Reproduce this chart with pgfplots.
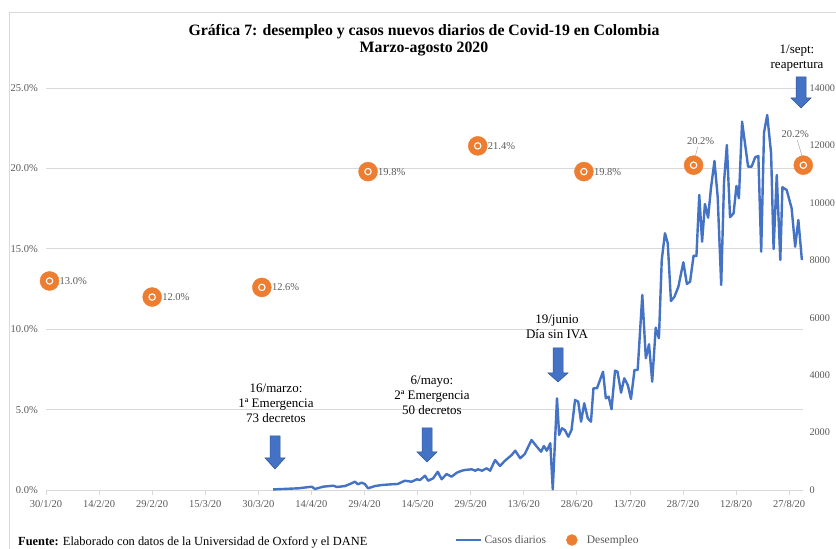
\documentclass[border=0pt]{standalone}
\usepackage{pgfplots}
\pgfplotsset{compat=1.18}
\usepackage{fontspec}
\setmainfont{Liberation Serif}
\definecolor{cblue}{HTML}{4472C4}
\definecolor{corange}{HTML}{ED7D31}
\definecolor{tgray}{HTML}{595959}
\definecolor{ggray}{HTML}{D9D9D9}
\definecolor{adark}{HTML}{2F5597}
\newcommand{\barrow}[4]{%
  \filldraw[fill=cblue, draw=adark, line width=0.5pt, line join=miter]
    (#1-5,#2) -- (#1+5,#2) -- (#1+5,#3) -- (#1+10,#3) -- (#1,#4) -- (#1-10,#3) -- (#1-5,#3) -- cycle;}

\pgfplotstableread{
day cases
64.2 20
71.3 59
75.1 115
76.0 35
78.3 115
81.1 150
82.3 105
84.5 139
85.9 209
87.3 289
88.1 199
89.2 254
90.1 209
91.0 59
93.0 139
94.9 174
97.7 199
99.4 209
101.4 324
103.3 289
104.8 373
105.7 348
107.1 498
108.0 324
109.4 408
110.7 637
111.8 373
113.2 557
114.6 463
116.1 603
117.5 672
118.4 697
120.3 721
121.3 672
122.1 721
123.2 672
124.5 756
125.5 672
126.9 1045
128.3 836
129.7 1021
131.6 1219
132.6 1369
134.0 1104
135.3 1254
137.2 1742
138.7 1508
139.9 1334
140.7 1533
141.5 1369
142.5 1627
143.2 24
144.4 3194
145.0 1916
145.8 2149
146.6 2090
147.6 1856
148.5 2090
149.5 3135
150.4 3075
151.2 2379
152.1 3020
153.1 2497
154.0 2379
154.7 3542
155.7 3542
157.4 4120
158.2 3194
159.0 3250
159.8 2811
160.8 4155
161.5 4120
162.5 3389
163.4 3891
164.4 3657
165.3 3170
166.3 4180
167.2 4180
168.5 6792
169.5 4587
170.4 5075
171.3 3772
172.3 5653
173.2 5284
174.0 8011
174.9 8941
175.7 8593
176.6 6583
177.6 6733
178.7 7081
180.1 7931
181.1 7175
182.0 7255
183.0 8161
183.8 8150
184.6 10275
185.4 8648
186.2 9961
187.1 9484
187.9 10508
188.9 11459
189.8 10216
190.8 7140
191.6 10738
192.4 12016
193.3 9498
194.3 9637
195.1 10588
195.8 10159
196.7 12828
198.4 11261
199.4 11261
200.4 11588
201.3 11633
202.1 8300
202.9 12445
203.8 13061
204.9 11727
205.6 8394
206.5 10971
207.5 8011
208.1 10543
209.3 10449
210.7 9812
211.7 8474
212.6 9404
213.6 8011
}\casos

\pgfplotstableread{
day rate
1 13.0
30 12.0
61 12.6
91 19.8
122 21.4
152 19.8
183 20.2
214 20.2
}\desempleo

\begin{document}
\begin{tikzpicture}
\path[use as bounding box] (0,0) rectangle (836pt,549pt);
\draw[ggray, line width=0.8pt] (9pt,0pt) -- (9pt,537pt) -- (836pt,537pt);

\begin{axis}[
  at={(46pt,59pt)}, anchor=south west, scale only axis,
  width=757.3pt, height=402pt,
  xmin=0, xmax=214, ymin=0, ymax=25,
  axis x line*=bottom, axis y line*=left,
  y axis line style={draw=none},
  x axis line style={draw=ggray, line width=0.8pt, -},
  xtick={0,15,...,210},
  xticklabels={30/1/20,14/2/20,29/2/20,15/3/20,30/3/20,14/4/20,29/4/20,14/5/20,29/5/20,13/6/20,28/6/20,13/7/20,28/7/20,12/8/20,27/8/20},
  tick align=outside,
  x tick style={draw=ggray, line width=0.8pt},
  major tick length=5pt,
  ytick={0,5,...,25},
  yticklabels={0.0\%,5.0\%,10.0\%,15.0\%,20.0\%,25.0\%},
  y tick style={draw=none},
  ymajorgrids, grid style={ggray, line width=0.8pt},
  tick label style={font=\fontsize{10.5}{12}\selectfont, text=tgray},
  xticklabel style={yshift=-1.5pt},
  yticklabel style={anchor=east, inner sep=0pt, xshift=-3pt},
  clip=false,
]
\addplot[only marks, mark=*, mark size=9.5pt, color=corange, mark options={draw=none, fill=corange}] table[x=day, y=rate] {\desempleo};
\addplot[only marks, mark=o, mark size=3.2pt, mark options={draw=white, line width=1.1pt}] table[x=day, y=rate] {\desempleo};
\begin{scope}[every node/.style={font=\fontsize{10.5}{12}\selectfont, text=tgray, inner sep=0pt}]
\node[anchor=west, xshift=10pt] at (axis cs:1,13.0) {13.0\%};
\node[anchor=west, xshift=10pt] at (axis cs:30,12.0) {12.0\%};
\node[anchor=west, xshift=10pt] at (axis cs:61,12.6) {12.6\%};
\node[anchor=west, xshift=10pt] at (axis cs:91,19.8) {19.8\%};
\node[anchor=west, xshift=10pt] at (axis cs:122,21.4) {21.4\%};
\node[anchor=west, xshift=10pt] at (axis cs:152,19.8) {19.8\%};
\node[xshift=7pt, yshift=24pt] at (axis cs:183,20.2) {20.2\%};
\node[xshift=-8pt, yshift=31pt] at (axis cs:214,20.2) {20.2\%};
\end{scope}
\draw[gray!70, line width=0.5pt] ([shift={(1pt,6pt)}]axis cs:183,20.2) -- ([shift={(4pt,18pt)}]axis cs:183,20.2);
\draw[gray!70, line width=0.5pt] ([shift={(0pt,5pt)}]axis cs:214,20.2) -- ([shift={(-6pt,25pt)}]axis cs:214,20.2);
\end{axis}

\begin{axis}[
  at={(46pt,59pt)}, anchor=south west, scale only axis,
  width=757.3pt, height=402pt,
  xmin=0, xmax=214, ymin=0, ymax=14000,
  axis y line*=right, axis x line=none,
  y axis line style={draw=none},
  ytick={0,2000,...,14000}, y tick style={draw=none},
  tick label style={font=\fontsize{10.2}{12}\selectfont, text=tgray},
  yticklabel style={anchor=west, inner sep=0pt, xshift=6pt},
  scaled y ticks=false,
  /pgf/number format/set thousands separator={},
  /pgf/number format/assume math mode=true,
  clip=false,
  legend style={at={(0.536,-0.1244)}, anchor=west, draw=none, fill=none,
    legend columns=2, font=\fontsize{11.5}{13}\selectfont, text=tgray,
    /tikz/every even column/.append style={column sep=18pt}},
]
\addplot[cblue, line width=2.4pt, line join=round,
  legend image code/.code={\draw[cblue, line width=2.4pt] (0pt,0pt) -- (25pt,0pt);}] table[x=day, y=cases] {\casos};
\addlegendentry{Casos diarios}
\addlegendimage{legend image code/.code={\path[draw=none, fill=none] (-5.5pt,-0.1pt) rectangle (13pt,0.1pt); \fill[corange] (0pt,0pt) circle (5.5pt);}}
\addlegendentry{Desempleo}
\end{axis}

\node[font=\bfseries\fontsize{15.8}{17}\selectfont, align=center] at (424pt,508.5pt)
  {Gráfica 7: desempleo y casos nuevos diarios de Covid-19 en Colombia\\Marzo-agosto 2020};
\node[anchor=west, font=\fontsize{12.4}{14}\selectfont, inner sep=0pt] at (18pt,7pt)
  {\textbf{Fuente:} Elaborado con datos de la Universidad de Oxford y el DANE};

\begin{scope}[x=1pt, y=-1pt, yshift=549pt]
\begin{scope}[every node/.style={align=center, font=\fontsize{13}{15}\selectfont}]
\node at (276,403) {16/marzo:\\1ª Emergencia\\73 decretos};
\node at (432,395) {6/mayo:\\2ª Emergencia\\50 decretos};
\node at (557,326.5) {19/junio\\Día sin IVA};
\node at (797,58) {1/sept:\\reapertura};
\end{scope}
\barrow{275}{436}{458}{469}
\barrow{427}{428}{452}{462}
\barrow{558}{348}{373}{382}
\barrow{801}{77}{98}{108}
\end{scope}
\end{tikzpicture}
\end{document}
